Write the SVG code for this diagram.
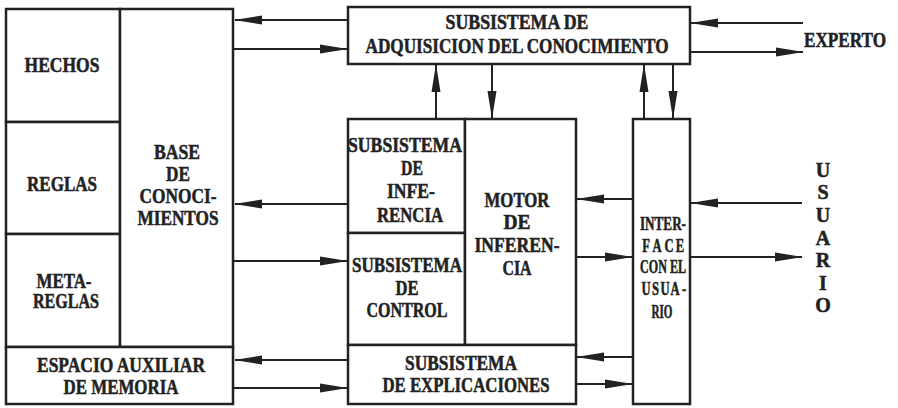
<svg xmlns="http://www.w3.org/2000/svg" width="898" height="408" viewBox="0 0 898 408">
<style>
.box{fill:#fff;stroke:#222;stroke-width:2.5}
.t{font-family:"Liberation Serif","Times New Roman",serif;font-weight:bold;font-size:20px;fill:#222;stroke:#222;stroke-width:0.5;text-anchor:middle}
.s{font-size:18px}
.c{fill:none;stroke:#222;stroke-width:2}
</style>
<defs>
<marker id="ah" markerUnits="userSpaceOnUse" markerWidth="28" markerHeight="10" refX="27" refY="5" orient="auto">
<path d="M0,0.5 L28,5 L0,9.5 Z" fill="#222"/>
</marker>
</defs>
<rect width="898" height="408" fill="#fff"/>
<g id="connectors">
<line class="c" x1="348" y1="20" x2="235" y2="20" marker-end="url(#ah)"/>
<line class="c" x1="233" y1="49" x2="347" y2="49" marker-end="url(#ah)"/>
<line class="c" x1="348" y1="204" x2="235" y2="204" marker-end="url(#ah)"/>
<line class="c" x1="233" y1="261" x2="347" y2="261" marker-end="url(#ah)"/>
<line class="c" x1="348" y1="360" x2="235" y2="360" marker-end="url(#ah)"/>
<line class="c" x1="233" y1="388" x2="347" y2="388" marker-end="url(#ah)"/>
<line class="c" x1="436" y1="119" x2="436" y2="65" marker-end="url(#ah)"/>
<line class="c" x1="492" y1="64" x2="492" y2="118" marker-end="url(#ah)"/>
<line class="c" x1="644" y1="119" x2="644" y2="65" marker-end="url(#ah)"/>
<line class="c" x1="673" y1="64" x2="673" y2="118" marker-end="url(#ah)"/>
<line class="c" x1="633" y1="199" x2="577" y2="199" marker-end="url(#ah)"/>
<line class="c" x1="576" y1="257" x2="632" y2="257" marker-end="url(#ah)"/>
<line class="c" x1="633" y1="357" x2="577" y2="357" marker-end="url(#ah)"/>
<line class="c" x1="576" y1="384" x2="632" y2="384" marker-end="url(#ah)"/>
<line class="c" x1="802" y1="203" x2="691" y2="203" marker-end="url(#ah)"/>
<line class="c" x1="690" y1="257" x2="802" y2="257" marker-end="url(#ah)"/>
<line class="c" x1="803" y1="23" x2="691" y2="23" marker-end="url(#ah)"/>
<line class="c" x1="690" y1="52" x2="803" y2="52" marker-end="url(#ah)"/>
</g>
<g id="hechos"><rect class="box" x="6" y="9" width="114" height="113"/><text class="t" x="62" y="72" textLength="75" lengthAdjust="spacingAndGlyphs">HECHOS</text></g>
<g id="reglas"><rect class="box" x="6" y="122" width="114" height="112"/><text class="t" x="62" y="191" textLength="70" lengthAdjust="spacingAndGlyphs">REGLAS</text></g>
<g id="metareglas"><rect class="box" x="6" y="234" width="114" height="113"/><text class="t" x="64" y="288" textLength="55" lengthAdjust="spacingAndGlyphs">META-</text><text class="t" x="66" y="308" textLength="66" lengthAdjust="spacingAndGlyphs">REGLAS</text></g>
<g id="base"><rect class="box" x="120" y="9" width="113" height="338"/><text class="t" x="177" y="159" textLength="46" lengthAdjust="spacingAndGlyphs">BASE</text><text class="t" x="178" y="181" textLength="24" lengthAdjust="spacingAndGlyphs">DE</text><text class="t" x="178" y="203" textLength="77" lengthAdjust="spacingAndGlyphs">CONOCI-</text><text class="t" x="178" y="225" textLength="81" lengthAdjust="spacingAndGlyphs">MIENTOS</text></g>
<g id="espacio"><rect class="box" x="6" y="347" width="227" height="57"/><text class="t" x="121" y="372" textLength="168" lengthAdjust="spacingAndGlyphs">ESPACIO AUXILIAR</text><text class="t" x="121" y="394" textLength="115" lengthAdjust="spacingAndGlyphs">DE MEMORIA</text></g>
<g id="adquisicion"><rect class="box" x="348" y="7" width="342" height="57"/><text class="t" x="517" y="29" textLength="143" lengthAdjust="spacingAndGlyphs">SUBSISTEMA DE</text><text class="t" x="517" y="53" textLength="303" lengthAdjust="spacingAndGlyphs">ADQUISICION DEL CONOCIMIENTO</text></g>
<g id="inferencia"><rect class="box" x="348" y="119" width="117" height="114"/><text class="t" x="405" y="152" textLength="114" lengthAdjust="spacingAndGlyphs">SUBSISTEMA</text><text class="t" x="412" y="175" textLength="22" lengthAdjust="spacingAndGlyphs">DE</text><text class="t" x="411" y="198" textLength="48" lengthAdjust="spacingAndGlyphs">INFE-</text><text class="t" x="410" y="222" textLength="66" lengthAdjust="spacingAndGlyphs">RENCIA</text></g>
<g id="control"><rect class="box" x="348" y="233" width="117" height="112"/><text class="t" x="407" y="272" textLength="110" lengthAdjust="spacingAndGlyphs">SUBSISTEMA</text><text class="t" x="407" y="295" textLength="23" lengthAdjust="spacingAndGlyphs">DE</text><text class="t" x="407" y="317" textLength="81" lengthAdjust="spacingAndGlyphs">CONTROL</text></g>
<g id="motor"><rect class="box" x="465" y="119" width="111" height="226"/><text class="t" x="517" y="207" textLength="65" lengthAdjust="spacingAndGlyphs">MOTOR</text><text class="t" x="517" y="229" textLength="27" lengthAdjust="spacingAndGlyphs">DE</text><text class="t" x="517" y="252" textLength="85" lengthAdjust="spacingAndGlyphs">INFEREN-</text><text class="t" x="517" y="275" textLength="29" lengthAdjust="spacingAndGlyphs">CIA</text></g>
<g id="explicaciones"><rect class="box" x="348" y="345" width="228" height="59"/><text class="t" x="461" y="370" textLength="112" lengthAdjust="spacingAndGlyphs">SUBSISTEMA</text><text class="t" x="466" y="392" textLength="167" lengthAdjust="spacingAndGlyphs">DE EXPLICACIONES</text></g>
<g id="interface"><rect class="box" x="633" y="119" width="57" height="285"/>
<text class="t s" x="663" y="230" textLength="46" lengthAdjust="spacingAndGlyphs">INTER-</text>
<text class="t s" transform="translate(663,252) scale(0.7,1)"><tspan x="-24.3" y="0">F</tspan><tspan x="-8.6" y="0">A</tspan><tspan x="8.6" y="0">C</tspan><tspan x="24.3" y="0">E</tspan></text>
<text class="t s" x="663" y="273" textLength="46" lengthAdjust="spacingAndGlyphs">CON EL</text>
<text class="t s" transform="translate(663,295) scale(0.7,1)"><tspan x="-24.3" y="0">U</tspan><tspan x="-10.7" y="0">S</tspan><tspan x="2.9" y="0">U</tspan><tspan x="17.1" y="0">A</tspan><tspan x="30" y="0">-</tspan></text>
<text class="t s" x="662" y="318" textLength="21" lengthAdjust="spacingAndGlyphs">RIO</text></g>
<g id="experto"><text class="t" x="845" y="47" font-size="19" textLength="82" lengthAdjust="spacingAndGlyphs">EXPERTO</text></g>
<g id="usuario"><text class="t" x="823" y="177">U</text><text class="t" x="823" y="199">S</text><text class="t" x="823" y="222">U</text><text class="t" x="823" y="245">A</text><text class="t" x="823" y="267">R</text><text class="t" x="823" y="290">I</text><text class="t" x="823" y="312">O</text></g>
</svg>
